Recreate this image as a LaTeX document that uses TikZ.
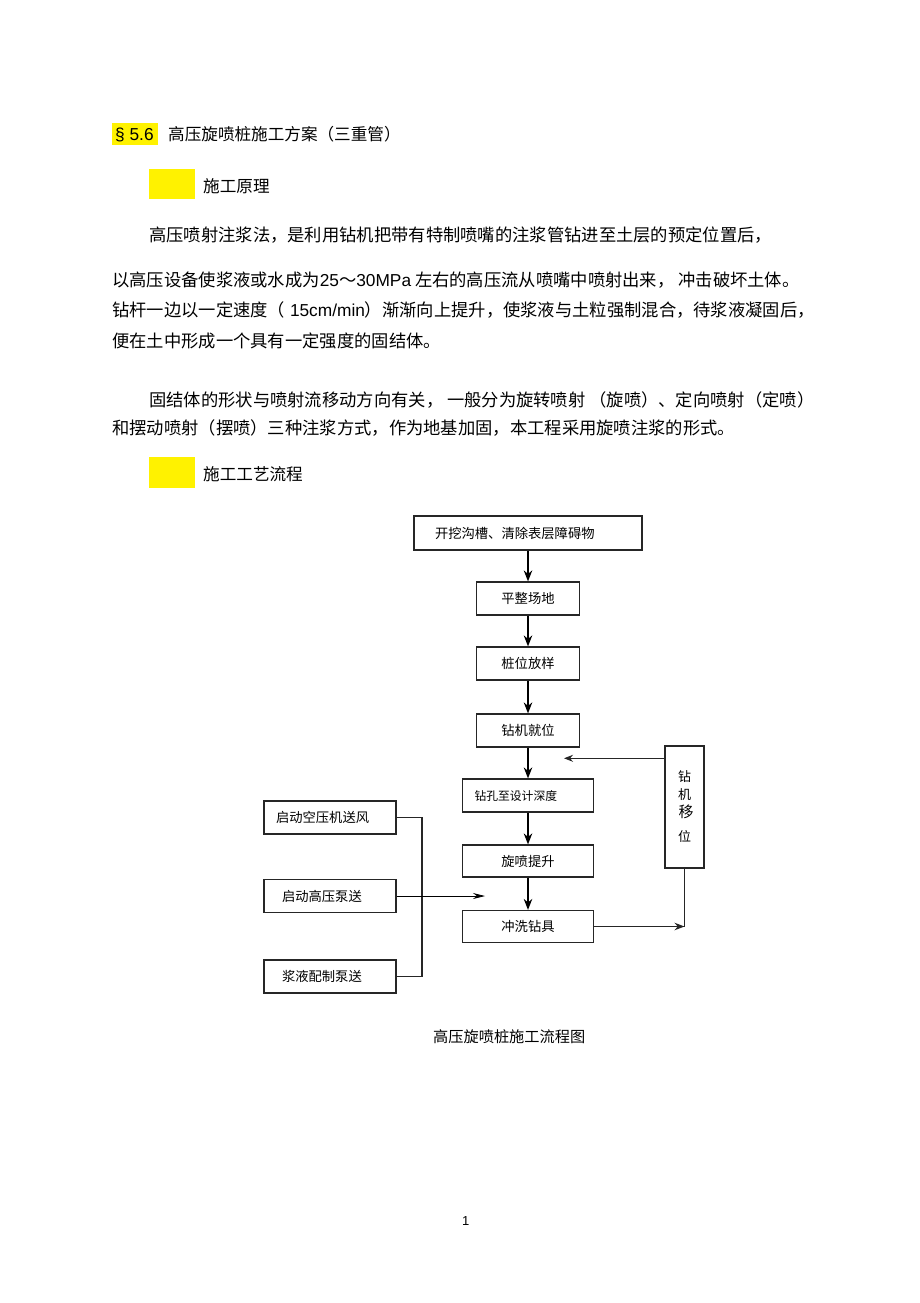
\documentclass[tikz,border=0pt]{standalone}
\usepackage{fontspec}
\setmainfont{Noto Sans CJK SC}
\newfontfamily\lat{Liberation Sans}
\usepackage{xcolor}
\usetikzlibrary{positioning,arrows.meta}

\begin{document}
\begin{tikzpicture}[x=1pt, y=-1pt,
  txt/.style={anchor=base west, inner sep=0pt, font=\fontsize{17.3}{20}\selectfont},
  head/.style={anchor=base west, inner sep=0pt, font=\fontsize{16.6}{20}\selectfont},
  marker/.style={fill=yellow},
  box/.style={draw=black!85, line width=1.2pt, inner sep=0pt, minimum height=33pt,
              font=\fontsize{13.3}{15}\selectfont, align=center},
  arr/.style={-{Stealth[length=11pt, width=8.5pt]}, line width=1.5pt},
  link/.style={line width=1.2pt, draw=black!85},
  feed/.style={-{Stealth[length=12pt, width=6pt]}, line width=0.8pt}
]
  \useasboundingbox (0,0) rectangle (920,1303);

  % Headings
  \fill[marker] (111.7,123.3) rectangle (157.7,145);
  \node[anchor=base west, inner sep=0pt, font=\lat\fontsize{17.3}{20}\selectfont] (sec) at (115,141) {§ 5.6};
  \node[head] (title) at (168,140) {高压旋喷桩施工方案（三重管）};
  \fill[marker] (149,169) rectangle (195,199);
  \node[head] (principle) at (203,192) {施工原理};

  % Text
  \node[txt] (p1) at (149,241) {高压喷射注浆法，是利用钻机把带有特制喷嘴的注浆管钻进至土层的预定位置后，};
  \node[txt] (p2) at (112,286) {以高压设备使浆液或水成为{\lat 25}～{\lat 30MPa} 左右的高压流从喷嘴中喷射出来， 冲击破坏土体。};
  \node[txt] (p3) at (112,316) {钻杆一边以一定速度（{\lat\ 15cm/min}）渐渐向上提升，使浆液与土粒强制混合，待浆液凝固后，};
  \node[txt] (p4) at (112,347) {便在土中形成一个具有一定强度的固结体。};
  \node[txt] (p5) at (149,406) {固结体的形状与喷射流移动方向有关， 一般分为旋转喷射 （旋喷）、定向喷射（定喷）};
  \node[txt] (p6) at (112,434) {和摆动喷射（摆喷）三种注浆方式，作为地基加固，本工程采用旋喷注浆的形式。};
  \fill[marker] (149,457) rectangle (195,488);
  \node[head] (process) at (203,480) {施工工艺流程};

  % Main steps
  \node[box, minimum width=228pt, minimum height=34pt, text width=186pt, inner xsep=21pt, align=left]
    (dig) at (528,533) {开挖沟槽、清除表层障碍物};
  \node[box, minimum width=103pt] (level) at (528,598.5) {平整场地};
  \node[box, minimum width=103pt] (stake) at (528,663.5) {桩位放样};
  \node[box, minimum width=103pt] (rig) at (528,730.5) {钻机就位};
  \node[box, minimum width=131pt, text width=107pt, inner xsep=12pt, align=left,
        font=\fontsize{11.8}{14}\selectfont] (drill) at (528,795.5) {钻孔至设计深度};
  \node[box, minimum width=131pt, minimum height=32pt] (jet) at (528,861) {旋喷提升};
  \node[box, minimum width=131pt, minimum height=32pt] (wash) at (528,926.5) {冲洗钻具};
  \node[box, minimum width=39pt, minimum height=122pt, font=\fontsize{13}{14}\selectfont]
    (move) at (684.5,807) {钻\\[4pt]机\\[4pt]\hspace{3pt}{\fontsize{15}{14}\selectfont 移}\\[10pt]位};

  % Supply steps
  \node[box, minimum width=132pt, text width=108pt, inner xsep=12pt, align=left] (air) at (330,817.5) {启动空压机送风};
  \node[box, minimum width=132pt, text width=96pt, inner xsep=18pt, align=left] (pump) at (330,896) {启动高压泵送};
  \node[box, minimum width=132pt, text width=96pt, inner xsep=18pt, align=left] (slurry) at (330,976.5) {浆液配制泵送};

  \node[anchor=base west, inner sep=0pt, font=\fontsize{15.2}{18}\selectfont] (caption) at (433,1042) {高压旋喷桩施工流程图};
  \node[anchor=base west, inner sep=0pt, font=\lat\fontsize{13}{15}\selectfont] (page) at (462,1225) {1};

  % Forward arrows
  \draw[arr] (dig) -- (level);
  \draw[arr] (level) -- (stake);
  \draw[arr] (stake) -- (rig);
  \draw[arr] (rig) -- (drill);
  \draw[arr] (drill) -- (jet);
  \draw[arr] (jet) -- (wash);

  % Loop back
  \coordinate (back) at (564,758.3);
  \draw[link, -{Stealth[length=9pt, width=7pt]}] (move.west |- back) -- (back);
  \draw[link, -{Stealth[length=10pt, width=7.5pt]}] (wash.east) -- (wash.east -| move.south);
  \draw[link] (move.south) -- (wash.east -| move.south);

  % Supply lines
  \coordinate (join) at (422,896);
  \coordinate (inlet) at (485,896);
  \draw[link] (air.east) -| (join);
  \draw[link] (slurry.east) -| (join);
  \draw[feed] (pump.east) -- (inlet);
\end{tikzpicture}
\end{document}
